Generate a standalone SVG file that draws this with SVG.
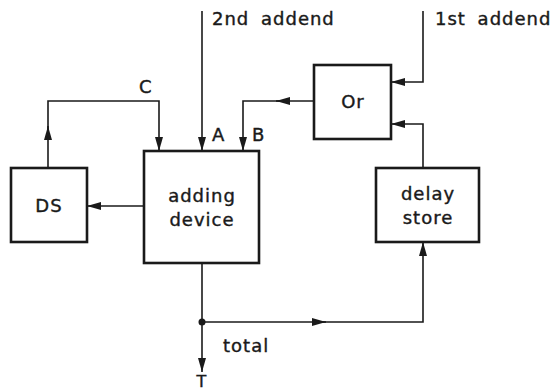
<svg xmlns="http://www.w3.org/2000/svg" width="557" height="392" viewBox="0 0 557 392">
<style>
.box{fill:#fff;stroke:#1a1a1a;stroke-width:2.6}
.ln{fill:none;stroke:#1a1a1a;stroke-width:1.6}
text{font-family:"DejaVu Sans",sans-serif;font-size:18px;fill:#1a1a1a;stroke:#1a1a1a;stroke-width:0.4;letter-spacing:1px;word-spacing:5px}
.c{text-anchor:middle}
</style>
<defs>
<marker id="ahl" viewBox="0 0 14 10" refX="14" refY="5" markerWidth="14" markerHeight="10" markerUnits="userSpaceOnUse" orient="auto"><path d="M0,1 L14,5 L0,9 z" fill="#1a1a1a"/></marker>
</defs>
<g id="connectors">
<path class="ln" d="M202,11 V151" marker-end="url(#ahl)"/>
<path class="ln" d="M423,11 V82 H391" marker-end="url(#ahl)"/>
<path class="ln" d="M314,101 H276" marker-end="url(#ahl)"/>
<path class="ln" d="M280,101 H243 V151" marker-end="url(#ahl)"/>
<path class="ln" d="M48,168 V126" marker-end="url(#ahl)"/>
<path class="ln" d="M48,130 V101 H159 V151" marker-end="url(#ahl)"/>
<path class="ln" d="M144,206 H87" marker-end="url(#ahl)"/>
<path class="ln" d="M202,263 V372" marker-end="url(#ahl)"/>
<path class="ln" d="M202,322 H326" marker-end="url(#ahl)"/>
<path class="ln" d="M320,322 H423 V242" marker-end="url(#ahl)"/>
<path class="ln" d="M423,168 V124 H391" marker-end="url(#ahl)"/>
<circle cx="202" cy="322" r="3.5" fill="#1a1a1a"/>
<text x="212" y="25">2nd addend</text>
<text x="435" y="25">1st addend</text>
<text x="139" y="93">C</text>
<text x="212" y="141">A</text>
<text x="252" y="141">B</text>
<text x="223" y="352">total</text>
<text x="202" y="387" class="c" style="font-size:16px">T</text>
</g>
<g id="adding">
<rect class="box" x="144" y="151" width="115" height="112"/>
<text class="c" x="202" y="202">adding</text>
<text class="c" x="202" y="226">device</text>
</g>
<g id="ds">
<rect class="box" x="11" y="168" width="76" height="74"/>
<text class="c" x="49" y="212">DS</text>
</g>
<g id="or">
<rect class="box" x="314" y="65" width="77" height="74"/>
<text class="c" x="353" y="108">Or</text>
</g>
<g id="delay">
<rect class="box" x="376" y="168" width="103" height="74"/>
<text class="c" x="428" y="200">delay</text>
<text class="c" x="428" y="224">store</text>
</g>
</svg>
